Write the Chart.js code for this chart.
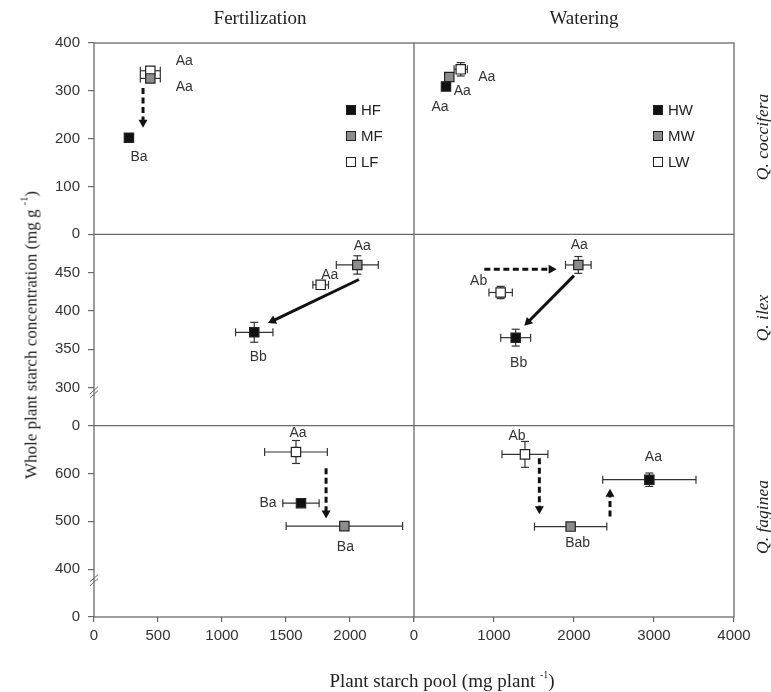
<!DOCTYPE html>
<html>
<head>
<meta charset="utf-8">
<script src="https://cdn.jsdelivr.net/npm/chart.js@4.4.1/dist/chart.umd.min.js"></script>
<style>
  body { margin: 0; background: #fff; }
  #wrap { position: relative; width: 771px; height: 692px; }
  #chart { position: absolute; left: 0; top: 0; }
  .t { position: absolute; font-family: "Liberation Serif", "Times New Roman", serif; font-size: 19px; color: #222; white-space: nowrap; transform: translate(-50%, -50%); }
  .rot { transform: translate(-50%, -50%) rotate(-90deg); }
  .yt { font-size: 17px; }
  .it { font-style: italic; font-size: 17.5px; }
  .t sup { font-size: 10px; vertical-align: 9px; }
  .leg { position: absolute; font-family: "Liberation Sans", Arial, sans-serif; font-size: 15px; color: #222; line-height: 26px; }
  .leg i { display: inline-block; width: 8px; height: 8px; border: 1px solid #222; margin-right: 5px; vertical-align: 0px; }
</style>
</head>
<body>
<div id="wrap">
  <canvas id="chart" width="771" height="692"></canvas>
  <div class="t" style="left:260px; top:18px;">Fertilization</div>
  <div class="t" style="left:584px; top:18px;">Watering</div>
  <div class="t rot yt" style="left:30px; top:335px;">Whole plant starch concentration (mg g <sup>-1</sup>)</div>
  <div class="t" style="left:442px; top:680px;">Plant starch pool (mg plant <sup>-1</sup>)</div>
  <div class="t rot it" style="left:762px; top:137px;">Q. coccifera</div>
  <div class="t rot it" style="left:762px; top:318px;">Q. ilex</div>
  <div class="t rot it" style="left:762px; top:517px;">Q. faginea</div>
  <div class="leg" id="legF" style="left:346px; top:97px;"></div>
  <div class="leg" id="legW" style="left:653px; top:97px;"></div>
</div>
<script>
// treatment levels: high, medium, low
const fertLevels = ['HF', 'MF', 'LF'];
const waterLevels = ['HW', 'MW', 'LW'];

// Q. coccifera - fertilization / watering  (H, M, L)
const poolCoccF = [273, 440, 440];
const concCoccF = [202, 326, 342];
const poolErrCoccF = [0, 78, 78];
const concErrCoccF = [0, 6, 6];
const lettersCoccF = ['Ba', 'Aa', 'Aa'];

const poolCoccW = [400, 441, 584];
const concCoccW = [309, 329, 345];
const poolErrCoccW = [0, 0, 83];
const concErrCoccW = [0, 0, 14];
const lettersCoccW = ['Aa', 'Aa', 'Aa'];

// Q. ilex
const poolIlexF = [1252, 2057, 1771];
const concIlexF = [372, 460, 434];
const poolErrIlexF = [146, 164, 61];
const concErrIlexF = [13, 12, 4];
const lettersIlexF = ['Bb', 'Aa', 'Aa'];

const poolIlexW = [1271, 2054, 1083];
const concIlexW = [365, 460, 424];
const poolErrIlexW = [187, 160, 146];
const concErrIlexW = [11, 11, 8];
const lettersIlexW = ['Bb', 'Aa', 'Ab'];

// Q. faginea
const poolFagF = [1617, 1956, 1578];
const concFagF = [538, 490, 645];
const poolErrFagF = [142, 455, 245];
const concErrFagF = [5, 0, 24];
const lettersFagF = ['Ba', 'Ba', 'Aa'];

const poolFagW = [2942, 1958, 1387];
const concFagW = [587, 489, 640];
const poolErrFagW = [583, 452, 287];
const concErrFagW = [14, 0, 27];
const lettersFagW = ['Aa', 'Bab', 'Ab'];

// arrows [x1, y1, x2, y2] in data units
const arrowsCoccF = [[383, 306, 383, 223, 'dash']];
const arrowsIlexF = [[2070, 441, 1359, 384, 'solid']];
const arrowsIlexW = [[879, 454.5, 1783, 454.5, 'dash'], [2000, 446, 1379, 380.5, 'solid']];
const arrowsFagF = [[1813, 611, 1813, 506, 'dash']];
const arrowsFagW = [[1567, 632, 1567, 515, 'dash'], [2450, 510, 2450, 568, 'dash']];

// tick values and labels (middle / bottom rows use a broken axis)
const xTicksF = [0, 500, 1000, 1500, 2000, 2500];
const xLabelsF = ['0', '500', '1000', '1500', '2000', ''];
const xTicksW = [0, 1000, 2000, 3000, 4000];
const xLabelsW = ['0', '1000', '2000', '3000', '4000'];
const yTicksCocc = [0, 100, 200, 300, 400];
const yLabelsCocc = ['0', '100', '200', '300', '400'];
const yTicksIlex = [250, 300, 350, 400, 450];
const yLabelsIlex = ['0', '300', '350', '400', '450'];
const yTicksFag = [300, 400, 500, 600];
const yLabelsFag = ['0', '400', '500', '600'];

// label offsets in px from the marker (H, M, L)
const offCoccF = [[10, 19], [34, 9], [34, -10]];
const offCoccW = [[-6, 21], [13, 14], [26, 8]];
const offIlexF = [[4, 25], [5, -19], [9, -10]];
const offIlexW = [[3, 25], [1, -20], [-22, -11]];
const offFagF = [[-33, 0], [1, 21], [2, -19]];
const offFagW = [[4, -23], [7, 17], [-8, -18]];

const fills = ['#111111', '#8c8c8c', '#ffffff'];
const lineCol = '#6a6a6a';

const panels = [
  { x: 'xF', y: 'yC', pool: poolCoccF, conc: concCoccF, pe: poolErrCoccF, ce: concErrCoccF, let: lettersCoccF, off: offCoccF, arr: arrowsCoccF },
  { x: 'xW', y: 'yC', pool: poolCoccW, conc: concCoccW, pe: poolErrCoccW, ce: concErrCoccW, let: lettersCoccW, off: offCoccW, arr: [] },
  { x: 'xF', y: 'yI', pool: poolIlexF, conc: concIlexF, pe: poolErrIlexF, ce: concErrIlexF, let: lettersIlexF, off: offIlexF, arr: arrowsIlexF },
  { x: 'xW', y: 'yI', pool: poolIlexW, conc: concIlexW, pe: poolErrIlexW, ce: concErrIlexW, let: lettersIlexW, off: offIlexW, arr: arrowsIlexW },
  { x: 'xF', y: 'yQ', pool: poolFagF, conc: concFagF, pe: poolErrFagF, ce: concErrFagF, let: lettersFagF, off: offFagF, arr: arrowsFagF },
  { x: 'xW', y: 'yQ', pool: poolFagW, conc: concFagW, pe: poolErrFagW, ce: concErrFagW, let: lettersFagW, off: offFagW, arr: arrowsFagW }
];

// legends
function fillLegend(id, names) {
  document.getElementById(id).innerHTML = names.map((n, i) =>
    '<div><i style="background:' + fills[i] + '"></i>' + n + '</div>').join('');
}
fillLegend('legF', fertLevels);
fillLegend('legW', waterLevels);

const datasets = [];
panels.forEach(p => {
  fills.forEach((c, i) => {
    datasets.push({
      data: [{ x: p.pool[i], y: p.conc[i] }],
      xAxisID: p.x, yAxisID: p.y,
      backgroundColor: c, borderColor: '#222', borderWidth: 1.2,
      pointStyle: 'rect', pointRadius: 6.6, pointHoverRadius: 6.6
    });
  });
});

function line(ctx, x1, y1, x2, y2) {
  ctx.beginPath(); ctx.moveTo(x1, y1); ctx.lineTo(x2, y2); ctx.stroke();
}

const decor = {
  id: 'decor',
  beforeDatasetsDraw(chart) {
    const { ctx, chartArea: a, scales } = chart;
    ctx.save();
    ctx.strokeStyle = lineCol;
    ctx.lineWidth = 1.3;
    ctx.strokeRect(a.left, a.top, a.width, a.height);
    line(ctx, scales.xW.left, a.top, scales.xW.left, a.bottom);
    line(ctx, a.left, scales.yI.top, a.right, scales.yI.top);
    line(ctx, a.left, scales.yQ.top, a.right, scales.yQ.top);
    // axis breaks
    [[scales.yI, 293], [scales.yQ, 376]].forEach(([s, v]) => {
      const y = s.getPixelForValue(v);
      ctx.lineWidth = 1;
      line(ctx, a.left - 4, y + 1, a.left + 4, y - 6);
      line(ctx, a.left - 4, y + 5, a.left + 4, y - 2);
    });
    // error bars
    ctx.strokeStyle = '#333';
    ctx.lineWidth = 1.2;
    panels.forEach(p => {
      const sx = scales[p.x], sy = scales[p.y];
      p.pool.forEach((v, i) => {
        const px = sx.getPixelForValue(v), py = sy.getPixelForValue(p.conc[i]);
        if (p.pe[i]) {
          const l = sx.getPixelForValue(v - p.pe[i]), r = sx.getPixelForValue(v + p.pe[i]);
          line(ctx, l, py, r, py);
          line(ctx, l, py - 4, l, py + 4);
          line(ctx, r, py - 4, r, py + 4);
        }
        if (p.ce[i]) {
          const t = sy.getPixelForValue(p.conc[i] + p.ce[i]), b = sy.getPixelForValue(p.conc[i] - p.ce[i]);
          line(ctx, px, t, px, b);
          line(ctx, px - 4, t, px + 4, t);
          line(ctx, px - 4, b, px + 4, b);
        }
      });
    });
    ctx.restore();
  },
  afterDatasetsDraw(chart) {
    const { ctx, scales } = chart;
    ctx.save();
    // arrows
    panels.forEach(p => {
      const sx = scales[p.x], sy = scales[p.y];
      p.arr.forEach(([x1, y1, x2, y2, kind]) => {
        const ax = sx.getPixelForValue(x1), ay = sy.getPixelForValue(y1);
        const bx = sx.getPixelForValue(x2), by = sy.getPixelForValue(y2);
        const ang = Math.atan2(by - ay, bx - ax);
        const head = 8;
        ctx.strokeStyle = '#111';
        ctx.fillStyle = '#111';
        ctx.lineWidth = 3;
        ctx.setLineDash(kind === 'dash' ? [6, 3.5] : []);
        line(ctx, ax, ay, bx - Math.cos(ang) * head * 0.8, by - Math.sin(ang) * head * 0.8);
        ctx.setLineDash([]);
        ctx.beginPath();
        ctx.moveTo(bx, by);
        ctx.lineTo(bx - Math.cos(ang) * head + Math.sin(ang) * 4.5, by - Math.sin(ang) * head - Math.cos(ang) * 4.5);
        ctx.lineTo(bx - Math.cos(ang) * head - Math.sin(ang) * 4.5, by - Math.sin(ang) * head + Math.cos(ang) * 4.5);
        ctx.closePath();
        ctx.fill();
      });
    });
    // significance letters
    ctx.font = '14px "Liberation Sans", Arial, sans-serif';
    ctx.fillStyle = '#333';
    ctx.textAlign = 'center';
    ctx.textBaseline = 'middle';
    panels.forEach(p => {
      const sx = scales[p.x], sy = scales[p.y];
      p.let.forEach((txt, i) => {
        ctx.fillText(txt, sx.getPixelForValue(p.pool[i]) + p.off[i][0], sy.getPixelForValue(p.conc[i]) + p.off[i][1]);
      });
    });
    ctx.restore();
  }
};

const tickFont = { family: '"Liberation Sans", Arial, sans-serif', size: 15 };

function xScale(ticks, labels, max, weight) {
  return {
    type: 'linear', axis: 'x', position: 'bottom', stack: 'cols', stackWeight: 1, weight: weight,
    min: 0, max: max,
    afterBuildTicks: s => { s.ticks = ticks.map(v => ({ value: v })); },
    afterFit: s => { s.height = 40; },
    border: { display: false },
    grid: { drawOnChartArea: false, color: lineCol, lineWidth: 1.2, tickLength: 5 },
    ticks: { font: tickFont, color: '#333', padding: 5, autoSkip: false, maxRotation: 0,
             callback: (v, i) => labels[i] }
  };
}

function yScale(ticks, labels, min, max, weight) {
  return {
    type: 'linear', axis: 'y', position: 'left', stack: 'rows', stackWeight: 1, weight: weight,
    min: min, max: max,
    afterBuildTicks: s => { s.ticks = ticks.map(v => ({ value: v })); },
    afterFit: s => { s.width = 44; },
    border: { display: false },
    grid: { drawOnChartArea: false, color: lineCol, lineWidth: 1.2, tickLength: 6 },
    ticks: { font: tickFont, color: '#333', padding: 8, autoSkip: false,
             callback: (v, i) => labels[i] }
  };
}

new Chart(document.getElementById('chart'), {
  type: 'scatter',
  data: { datasets: datasets },
  options: {
    responsive: false,
    animation: false,
    devicePixelRatio: 1,
    layout: { padding: { left: 50, right: 37, top: 43, bottom: 35 } },
    plugins: { legend: { display: false }, tooltip: { enabled: false } },
    scales: {
      xF: xScale(xTicksF, xLabelsF, 2500, 1),
      xW: xScale(xTicksW, xLabelsW, 4000, 2),
      yC: yScale(yTicksCocc, yLabelsCocc, 0, 400, 3),
      yI: yScale(yTicksIlex, yLabelsIlex, 250, 500, 2),
      yQ: yScale(yTicksFag, yLabelsFag, 300, 700, 1)
    }
  },
  plugins: [decor]
});
</script>
</body>
</html>
